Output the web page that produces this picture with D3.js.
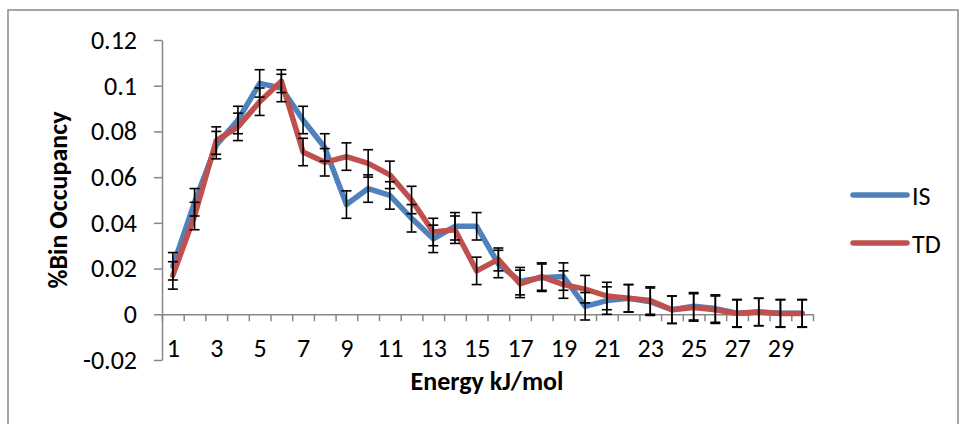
<!DOCTYPE html>
<html lang="en">
<head>
    <meta charset="UTF-8">
    <title>%Bin Occupancy vs Energy</title>
    <script src="https://d3js.org/d3.v7.min.js"></script>
    <style>
        body { margin: 0; background: #fff; }
        svg, .axis text { font-family: Carlito, Calibri, Lato, sans-serif; }
        .axis path, .axis line { stroke: #868686; stroke-width: 1.5; }
        .axis text { font-size: 26px; fill: #000; }
        .series { fill: none; stroke-width: 5.5; stroke-linejoin: round; stroke-linecap: round; }
        .err { stroke: #000; stroke-width: 1.6; }
    </style>
</head>
<body>
    <div id="chart"></div>
    <script>
        // energy bins (kJ/mol)
        const bins = d3.range(1, 31);
        const binLabels = [1, 3, 5, 7, 9, 11, 13, 15, 17, 19, 21, 23, 25, 27, 29];
        const yTicks = [-0.02, 0, 0.02, 0.04, 0.06, 0.08, 0.1, 0.12];

        // %bin occupancy
        const isValues = [0.021, 0.049, 0.074, 0.085, 0.101, 0.099, 0.085, 0.073, 0.048, 0.055,
                          0.052, 0.042, 0.033, 0.0385, 0.0385, 0.022, 0.0145, 0.016, 0.0165, 0.0035,
                          0.006, 0.007, 0.0055, 0.002, 0.0035, 0.0025, 0.0005, 0.001, 0.0005, 0.0005];
        const tdValues = [0.017, 0.043, 0.076, 0.082, 0.093, 0.102, 0.071, 0.0665, 0.069, 0.066,
                          0.061, 0.050, 0.036, 0.037, 0.019, 0.024, 0.0133, 0.0165, 0.013, 0.011,
                          0.008, 0.007, 0.006, 0.002, 0.003, 0.002, 0.0003, 0.001, 0.0003, 0.0003];
        const isErr = [0.006, 0.006, 0.006, 0.006, 0.006, 0.006, 0.006, 0.006, 0.006, 0.006,
                       0.006, 0.006, 0.006, 0.006, 0.006, 0.006, 0.006, 0.006, 0.006, 0.006,
                       0.006, 0.006, 0.006, 0.006, 0.006, 0.006, 0.006, 0.006, 0.006, 0.006];
        const tdErr = [0.006, 0.006, 0.006, 0.006, 0.006, 0.005, 0.006, 0.006, 0.006, 0.006,
                       0.006, 0.006, 0.006, 0.006, 0.006, 0.005, 0.006, 0.006, 0.006, 0.006,
                       0.006, 0.006, 0.006, 0.006, 0.006, 0.006, 0.006, 0.006, 0.006, 0.006];

        const seriesNames = ["IS", "TD"];
        const colors = ["#4F81BD", "#C0504D"];

        const W = 959, H = 424;
        const svg = d3.select("#chart").append("svg")
            .attr("width", W)
            .attr("height", H);

        // chart frame
        svg.append("rect")
            .attr("x", 8).attr("y", 10)
            .attr("width", 950).attr("height", 430)
            .attr("fill", "none")
            .attr("stroke", "#898989")
            .attr("stroke-width", 1.5);

        // scales: bins sit in the middle of their band
        const x = d3.scaleLinear().domain([0.5, 30.5]).range([162, 813]);
        const y = d3.scaleLinear().domain([-0.02, 0.12]).range([360, 40]);

        // y axis
        svg.append("g")
            .attr("class", "axis")
            .attr("transform", "translate(162,0)")
            .call(d3.axisLeft(y)
                .tickValues(yTicks)
                .tickSize(8)
                .tickPadding(17)
                .tickSizeOuter(0)
                .tickFormat(d => String(+d.toFixed(2))));

        // x axis along zero, tick marks between bins
        svg.append("g")
            .attr("class", "axis")
            .attr("transform", `translate(0,${y(0)})`)
            .call(d3.axisBottom(x)
                .tickValues(d3.range(0.5, 31, 1))
                .tickSize(7)
                .tickSizeOuter(0)
                .tickFormat(""));

        // x labels below the plot
        const xLab = svg.append("g")
            .attr("class", "axis")
            .attr("transform", "translate(0,339)")
            .call(d3.axisBottom(x)
                .tickValues(binLabels)
                .tickSize(0)
                .tickPadding(0));
        xLab.select(".domain").remove();

        // lines
        const series = [isValues, tdValues];
        const errs = [isErr, tdErr];
        const line = d3.line()
            .x((d, i) => x(bins[i]))
            .y(d => y(d));

        series.forEach((vals, k) => {
            svg.append("path")
                .datum(vals)
                .attr("class", "series")
                .attr("stroke", colors[k])
                .attr("d", line);
        });

        // error bars
        series.forEach((vals, k) => {
            const g = svg.append("g").attr("class", "err");
            vals.forEach((v, i) => {
                const cx = x(bins[i]);
                const lo = y(v - errs[k][i]), hi = y(v + errs[k][i]);
                g.append("line").attr("x1", cx).attr("x2", cx).attr("y1", lo).attr("y2", hi);
                g.append("line").attr("x1", cx - 5).attr("x2", cx + 5).attr("y1", lo).attr("y2", lo);
                g.append("line").attr("x1", cx - 5).attr("x2", cx + 5).attr("y1", hi).attr("y2", hi);
            });
        });

        // axis titles
        svg.append("text")
            .attr("x", 487)
            .attr("y", 390)
            .attr("text-anchor", "middle")
            .attr("font-weight", "bold")
            .attr("font-size", 26)
            .text("Energy kJ/mol");

        svg.append("text")
            .attr("transform", "translate(67,200) rotate(-90)")
            .attr("text-anchor", "middle")
            .attr("font-weight", "bold")
            .attr("font-size", 26)
            .text("%Bin Occupancy");

        // legend
        const legend = svg.append("g").attr("transform", "translate(853,195)");
        seriesNames.forEach((name, i) => {
            const row = legend.append("g").attr("transform", `translate(0,${i * 48})`);
            row.append("line")
                .attr("x1", 0).attr("x2", 54)
                .attr("stroke", colors[i])
                .attr("stroke-width", 5.5)
                .attr("stroke-linecap", "round");
            row.append("text")
                .attr("x", 59)
                .attr("y", 10)
                .attr("font-size", 26)
                .text(name);
        });
    </script>
</body>
</html>
